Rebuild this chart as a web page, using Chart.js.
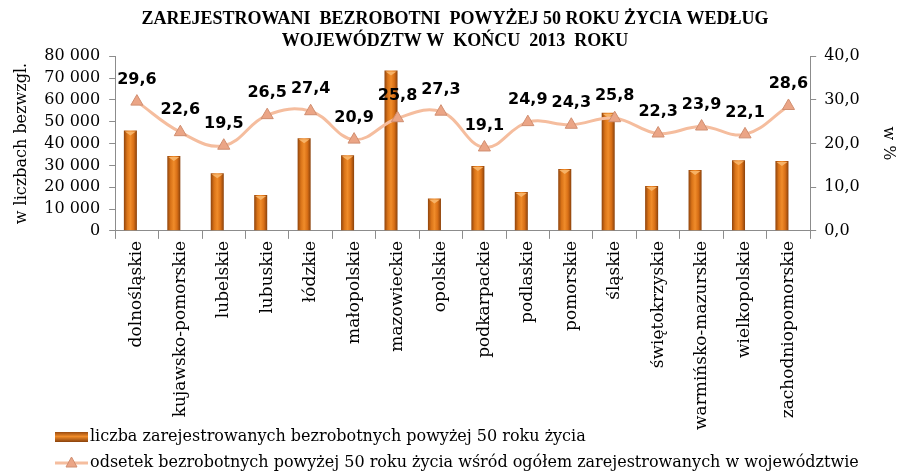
<!DOCTYPE html>
<html>
<head>
<meta charset="utf-8">
<script src="https://cdn.jsdelivr.net/npm/chart.js@4.4.0/dist/chart.umd.min.js"></script>
<style>
html, body { margin: 0; padding: 0; background: #fff; }
#box { width: 898px; height: 472px; }
</style>
</head>
<body>
<div id="box"><canvas id="wykres"></canvas></div>
<script>
// dane
const wojewodztwa = ['dolnośląskie', 'kujawsko-pomorskie', 'lubelskie', 'lubuskie', 'łódzkie',
    'małopolskie', 'mazowieckie', 'opolskie', 'podkarpackie', 'podlaskie', 'pomorskie',
    'śląskie', 'świętokrzyskie', 'warmińsko-mazurskie', 'wielkopolskie', 'zachodniopomorskie'];
const liczbaBezrobotnych = [46000, 34300, 26400, 16400, 42400, 34600, 73400, 14800,
    29700, 17800, 28300, 54100, 20600, 27900, 32400, 32000];
const odsetek = [29.6, 22.6, 19.5, 26.5, 27.4, 20.9, 25.8, 27.3, 19.1, 24.9, 24.3, 25.8, 22.3, 23.9, 22.1, 28.6];
const osLewaMax = 80000, osLewaKrok = 10000;
const osPrawaMax = 40, osPrawaKrok = 10;

const tytul = ['ZAREJESTROWANI  BEZROBOTNI  POWYŻEJ 50 ROKU ŻYCIA WEDŁUG', 'WOJEWÓDZTW W  KOŃCU  2013  ROKU'];
const legendaSlupki = 'liczba zarejestrowanych bezrobotnych powyżej 50 roku życia';
const legendaLinia = 'odsetek bezrobotnych powyżej 50 roku życia wśród ogółem zarejestrowanych w województwie';

const czcionka = 'DejaVu Serif';
const kolorLinii = '#f5bd9e';
const kolorZnacznika = '#eba586';
const kolorOsi = '#8c8c8c';
const procentSlotu = 0.6;

function formatTysiace(v) {
    return String(v).replace(/\B(?=(\d{3})+(?!\d))/g, ' ');
}

function formatProcent(v) {
    return Number(v).toFixed(1).replace('.', ',');
}

// gradient "walca" dla slupkow
function kolorSlupka(ctx) {
    const chart = ctx.chart;
    const xs = chart.scales.x;
    if (!xs || ctx.type !== 'data' || !xs.width) return '#e47d1e';
    const srodek = xs.getPixelForValue(ctx.dataIndex);
    const szer = xs.width / wojewodztwa.length * procentSlotu / 2;
    const lewy = srodek - szer;
    const g = chart.ctx.createLinearGradient(lewy, 0, lewy + szer, 0);
    g.addColorStop(0, '#8f430c');
    g.addColorStop(0.25, '#d97318');
    g.addColorStop(0.5, '#f08c2a');
    g.addColorStop(0.75, '#d86f16');
    g.addColorStop(1, '#8a410b');
    return g;
}

const daszkiSlupkow = {
    id: 'daszkiSlupkow',
    afterDatasetDraw(chart, args) {
        if (args.index !== 0) return;
        const c = chart.ctx;
        c.save();
        args.meta.data.forEach(bar => {
            const w = bar.width;
            c.fillStyle = '#f7b266';
            c.beginPath();
            c.moveTo(bar.x - w / 2 + 1, bar.y + 1);
            c.lineTo(bar.x + w / 2 - 1, bar.y + 1);
            c.lineTo(bar.x, bar.y + 5);
            c.closePath();
            c.fill();
        });
        c.restore();
    }
};

const etykietyPunktow = {
    id: 'etykietyPunktow',
    afterDatasetsDraw(chart) {
        const meta = chart.getDatasetMeta(2);
        const c = chart.ctx;
        c.save();
        c.font = 'bold 16px "DejaVu Sans"';
        c.fillStyle = '#000';
        c.textAlign = 'center';
        c.textBaseline = 'middle';
        meta.data.forEach((pt, i) => {
            c.fillText(formatProcent(odsetek[i]), pt.x, pt.y - 22);
        });
        c.restore();
    }
};

const legendaWlasna = {
    id: 'legendaWlasna',
    afterDraw(chart) {
        const c = chart.ctx;
        c.save();
        // slupek
        const g = c.createLinearGradient(0, 432, 0, 442);
        g.addColorStop(0, '#9a4a0e');
        g.addColorStop(0.45, '#f08c2a');
        g.addColorStop(1, '#8a410b');
        c.fillStyle = g;
        c.fillRect(55, 432, 33, 10);
        // linia z trojkatem
        c.strokeStyle = kolorLinii;
        c.lineWidth = 3;
        c.beginPath();
        c.moveTo(55, 463);
        c.lineTo(88, 463);
        c.stroke();
        c.fillStyle = kolorZnacznika;
        c.strokeStyle = '#d08e70';
        c.lineWidth = 1;
        c.beginPath();
        c.moveTo(71.5, 457);
        c.lineTo(77, 467);
        c.lineTo(66, 467);
        c.closePath();
        c.fill();
        c.stroke();
        c.font = '16px "' + czcionka + '"';
        c.fillStyle = '#000';
        c.textBaseline = 'middle';
        c.fillText(legendaSlupki, 90, 437);
        c.fillText(legendaLinia, 90, 463);
        c.restore();
    }
};

const ctx = document.getElementById('wykres').getContext('2d');
new Chart(ctx, {
    type: 'bar',
    data: {
        labels: wojewodztwa,
        datasets: [{
            type: 'bar',
            label: legendaSlupki,
            data: liczbaBezrobotnych,
            yAxisID: 'y',
            backgroundColor: kolorSlupka,
            borderWidth: 0,
            categoryPercentage: procentSlotu,
            barPercentage: 1,
            order: 1
        }, {
            type: 'bar',
            label: '',
            data: wojewodztwa.map(() => null),
            yAxisID: 'y',
            categoryPercentage: procentSlotu,
            barPercentage: 1,
            order: 2
        }, {
            type: 'line',
            label: legendaLinia,
            data: odsetek,
            yAxisID: 'y1',
            borderColor: kolorLinii,
            borderWidth: 3,
            tension: 0.4,
            pointStyle: 'triangle',
            pointRadius: 7,
            pointBackgroundColor: kolorZnacznika,
            pointBorderColor: '#d08e70',
            pointBorderWidth: 1,
            order: 0
        }]
    },
    options: {
        responsive: true,
        maintainAspectRatio: false,
        animation: false,
        layout: {
            padding: { left: 12, right: 0, top: 0, bottom: 40 }
        },
        plugins: {
            legend: { display: false },
            tooltip: { enabled: false },
            title: {
                display: true,
                text: tytul,
                color: '#000',
                font: { family: 'Liberation Serif', size: 18, weight: 'bold', lineHeight: 1.2 },
                padding: { top: 9, bottom: 4 }
            }
        },
        scales: {
            x: {
                grid: { drawOnChartArea: false, offset: true, tickLength: 8, color: kolorOsi },
                border: { color: kolorOsi },
                ticks: {
                    color: '#000',
                    font: { family: czcionka, size: 17 },
                    minRotation: 90,
                    maxRotation: 90,
                    autoSkip: false,
                    padding: 2
                }
            },
            y: {
                position: 'left',
                min: 0,
                max: osLewaMax,
                grid: { drawOnChartArea: false, tickLength: 6, color: kolorOsi },
                border: { color: kolorOsi },
                ticks: {
                    stepSize: osLewaKrok,
                    autoSkip: false,
                    color: '#000',
                    font: { family: czcionka, size: 16 },
                    padding: 9,
                    callback: v => formatTysiace(v)
                },
                title: {
                    display: true,
                    text: 'w liczbach bezwzgl.',
                    color: '#000',
                    font: { family: czcionka, size: 16 },
                    padding: { top: 0, bottom: 4 }
                }
            },
            y1: {
                position: 'right',
                min: 0,
                max: osPrawaMax,
                grid: { drawOnChartArea: false, tickLength: 6, color: kolorOsi },
                border: { color: kolorOsi },
                ticks: {
                    stepSize: osPrawaKrok,
                    autoSkip: false,
                    color: '#000',
                    font: { family: czcionka, size: 16 },
                    padding: 8,
                    callback: v => formatProcent(v)
                },
                title: {
                    display: true,
                    text: 'w %',
                    color: '#000',
                    font: { family: czcionka, size: 16 },
                    padding: { top: 0, bottom: 11 }
                }
            }
        }
    },
    plugins: [daszkiSlupkow, etykietyPunktow, legendaWlasna]
});
</script>
</body>
</html>
